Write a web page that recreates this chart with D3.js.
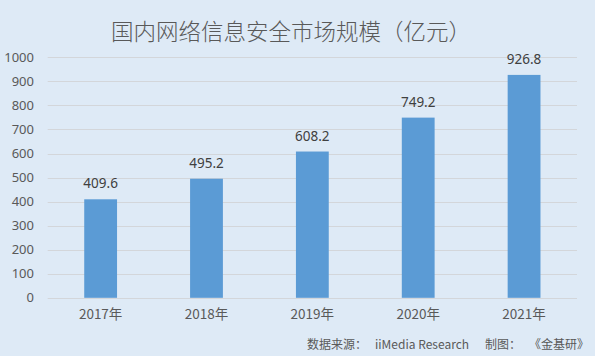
<!DOCTYPE html>
<html><head><meta charset="utf-8">
<script src="https://cdn.jsdelivr.net/npm/d3@7"></script>
<style>
html,body{margin:0;padding:0;background:#deeaf6;}
svg{display:block;font-family:"Noto Sans CJK SC","Noto Sans",sans-serif;}
</style></head><body>
<svg id="c" width="595" height="356"></svg>
<script>
const categories = ["2017年","2018年","2019年","2020年","2021年"];
const values = [409.6, 495.2, 608.2, 749.2, 926.8];
const yTicks = [0,100,200,300,400,500,600,700,800,900,1000];
const title = "国内网络信息安全市场规模（亿元）";
const sourceParts = ["数据来源：", "iiMedia Research", "制图：", "《金基研》"];

const svg = d3.select("#c");
svg.append("rect").attr("width",595).attr("height",356).attr("fill","#deeaf6");

const x = d3.scaleBand().domain(categories).range([47.7,577]).paddingInner(0.69).paddingOuter(0.345);
const y = d3.scaleLinear().domain([0,1000]).range([297.8,57.3]);

// gridlines
svg.append("g").selectAll("line").data(yTicks).join("line")
  .attr("x1",47.7).attr("x2",577)
  .attr("y1",d=>Math.round(y(d))+0.5).attr("y2",d=>Math.round(y(d))+0.5)
  .attr("stroke","#d3d6da").attr("stroke-width",1);

// y axis labels
const yAxis = d3.axisLeft(y).tickValues(yTicks).tickSize(0).tickPadding(0).tickFormat(d3.format("d"));
const gy = svg.append("g").attr("transform","translate(34,0)").call(yAxis);
gy.select(".domain").remove();
gy.selectAll("text").attr("fill","#595959").style("font-size","13px").style("font-family","'Noto Sans','DejaVu Sans',sans-serif");

// bars
svg.append("g").selectAll("rect").data(values).join("rect")
  .attr("x",(d,i)=>x(categories[i]))
  .attr("width",x.bandwidth())
  .attr("y",d=>y(d))
  .attr("height",d=>y(0)-y(d))
  .attr("fill","#5b9bd5");

// value labels
svg.append("g").selectAll("text").data(values).join("text")
  .attr("x",(d,i)=>x(categories[i])+x.bandwidth()/2)
  .attr("y",d=>y(d)-11)
  .attr("text-anchor","middle")
  .attr("fill","#404040")
  .style("font-size","13.5px")
  .style("font-family","'Noto Sans','DejaVu Sans',sans-serif")
  .text(d=>d.toFixed(1));

// x axis labels
const xAxis = d3.axisBottom(x).tickSize(0).tickPadding(0);
const gx = svg.append("g").attr("transform","translate(0,309)").call(xAxis);
gx.select(".domain").remove();
gx.selectAll("text").attr("fill","#595959").style("font-size","13.5px").style("font-family","'Noto Sans CJK SC',sans-serif");

// title
svg.append("text").attr("x",291).attr("y",40).attr("text-anchor","middle")
  .attr("fill","#595959").style("font-size","22.5px").style("font-weight","300")
  .text(title);

// source
const srcX = [307, 375, 485, 589];
svg.append("g").selectAll("text").data(sourceParts).join("text")
  .attr("x",(d,i)=>srcX[i]).attr("y",349)
  .attr("text-anchor",(d,i)=>i===3?"end":"start")
  .attr("fill","#595959").style("font-size","12px")
  .text(d=>d);
</script>
</body></html>
